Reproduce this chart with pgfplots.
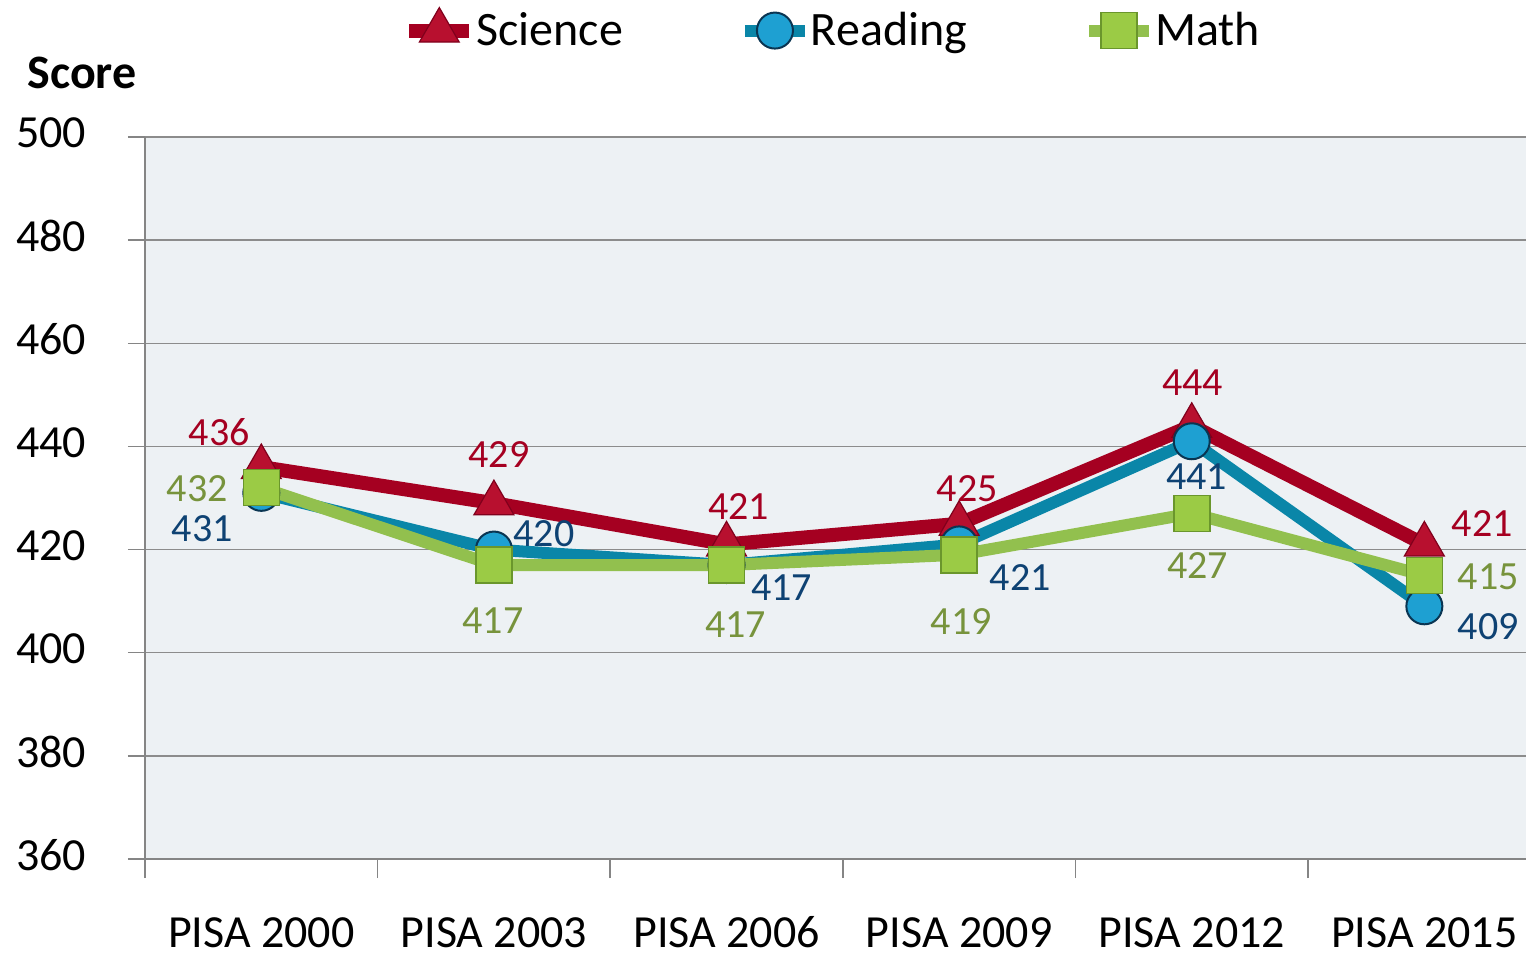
\documentclass[border=0pt]{standalone}
\usepackage{fontspec}
\setmainfont{Carlito}
\usepackage{pgfplots}
\usepackage{pgfplotstable}
\pgfplotsset{compat=1.18}

\definecolor{sciline}{HTML}{A50021}
\definecolor{scifill}{HTML}{B8102F}
\definecolor{sciedge}{HTML}{80001C}
\definecolor{readline}{HTML}{0A86A8}
\definecolor{readfill}{HTML}{1EA0D2}
\definecolor{readedge}{HTML}{0A3552}
\definecolor{mathline}{HTML}{92C04E}
\definecolor{mathfill}{HTML}{9BCB45}
\definecolor{mathedge}{HTML}{6A962C}
\definecolor{scitext}{HTML}{A50021}
\definecolor{readtext}{HTML}{0E4273}
\definecolor{mathtext}{HTML}{77933C}
\definecolor{bgcol}{HTML}{EDF1F4}
\definecolor{gridgray}{HTML}{8C8C8C}
\definecolor{axisgray}{HTML}{858585}

% x, score, label offsets (bp)
\pgfplotstableread{
x y dx dy
0 436 -21 17.5
1 429 2.5 24.5
2 421 6 19
3 425 4 17.5
4 444 0.5 21.5
5 421 29 10.5
}\science
\pgfplotstableread{
x y dx dy
0 431 -29.5 -18
1 420 25 8
2 417 27.5 -11.5
3 421 30.5 -16.5
4 441 2.5 -17.5
5 409 32 -10
}\reading
\pgfplotstableread{
x y dx dy
0 432 -32 -0.5
1 417 -0.5 -28
2 417 4.5 -30
3 419 1 -33.5
4 427 3 -26
5 415 32 -0.5
}\math

\begin{document}
\begin{tikzpicture}
\begin{axis}[
    scale only axis,
    width=690.5bp, height=361bp,
    xmin=-0.5, xmax=5.437,
    ymin=360, ymax=500,
    ytick={360,380,...,500},
    xtick={0,...,5},
    xticklabels={PISA 2000,PISA 2003,PISA 2006,PISA 2009,PISA 2012,PISA 2015},
    minor xtick={-0.5,0.5,...,4.5},
    axis lines=left,
    axis line style={-, draw=axisgray, line width=1bp},
    ymajorgrids,
    grid style={draw=gridgray, line width=0.75bp},
    axis background/.style={fill=bgcol},
    tick align=outside,
    major tick length=8.5bp,
    minor tick length=9.5bp,
    tick style={draw=axisgray, line width=0.75bp},
    major x tick style={draw=none},
    /pgf/number format/assume math mode=true,
    ticklabel style={font=\fontsize{23bp}{27bp}\selectfont, text=black},
    yticklabel style={xshift=-17.5bp, yshift=2bp},
    xticklabel style={inner ysep=0pt, yshift=-19.5bp, text height=16bp, text depth=0pt},
    ylabel={\bfseries Score},
    ylabel style={rotate=-90, at={(rel axis cs:0,1)}, anchor=center,
        xshift=-31.5bp, yshift=32bp, font=\fontsize{24bp}{28bp}\selectfont},
    clip=false,
    legend columns=-1,
    legend style={draw=none, fill=none, at={(0.1817,1.148)}, anchor=west,
        font=\fontsize{24bp}{28bp}\selectfont,
        nodes={inner xsep=0bp},
        /tikz/every even column/.append style={column sep=58bp}},
    legend image code/.code={\draw[mark repeat=2, mark phase=2]
        plot coordinates {(0bp,0bp) (15bp,0bp) (30bp,0bp)};},
    nodes near coords,
    point meta=explicit,
    visualization depends on={\thisrow{dx} \as \dx},
    visualization depends on={\thisrow{dy} \as \dy},
    nodes near coords style={anchor=center, xshift=\dx bp, yshift=\dy bp,
        font=\fontsize{20bp}{24bp}\selectfont},
]
\coordinate (sw) at (rel axis cs:0,0);
\coordinate (ne) at (rel axis cs:1,1);

\addplot[draw=sciline, line width=7bp, mark=triangle*, mark size=11.5bp,
    mark options={fill=scifill, draw=sciedge, line width=0.6bp},
    nodes near coords style={text=scitext}]
    table[x=x, y=y, meta=y] {\science};
\addlegendentry{Science}

\addplot[draw=readline, line width=6bp, mark=*, mark size=9bp,
    mark options={fill=readfill, draw=readedge, line width=1bp},
    nodes near coords style={text=readtext}]
    table[x=x, y=y, meta=y] {\reading};
\addlegendentry{Reading}

\addplot[draw=mathline, line width=6bp, mark=square*, mark size=9bp,
    mark options={fill=mathfill, draw=mathedge, line width=0.8bp},
    nodes near coords style={text=mathtext}]
    table[x=x, y=y, meta=y] {\math};
\addlegendentry{Math}
\end{axis}
\pgfresetboundingbox
\path[use as bounding box] ([xshift=-72.5bp, yshift=-48.5bp]sw) rectangle ([yshift=68.5bp]ne);
\end{tikzpicture}
\end{document}
